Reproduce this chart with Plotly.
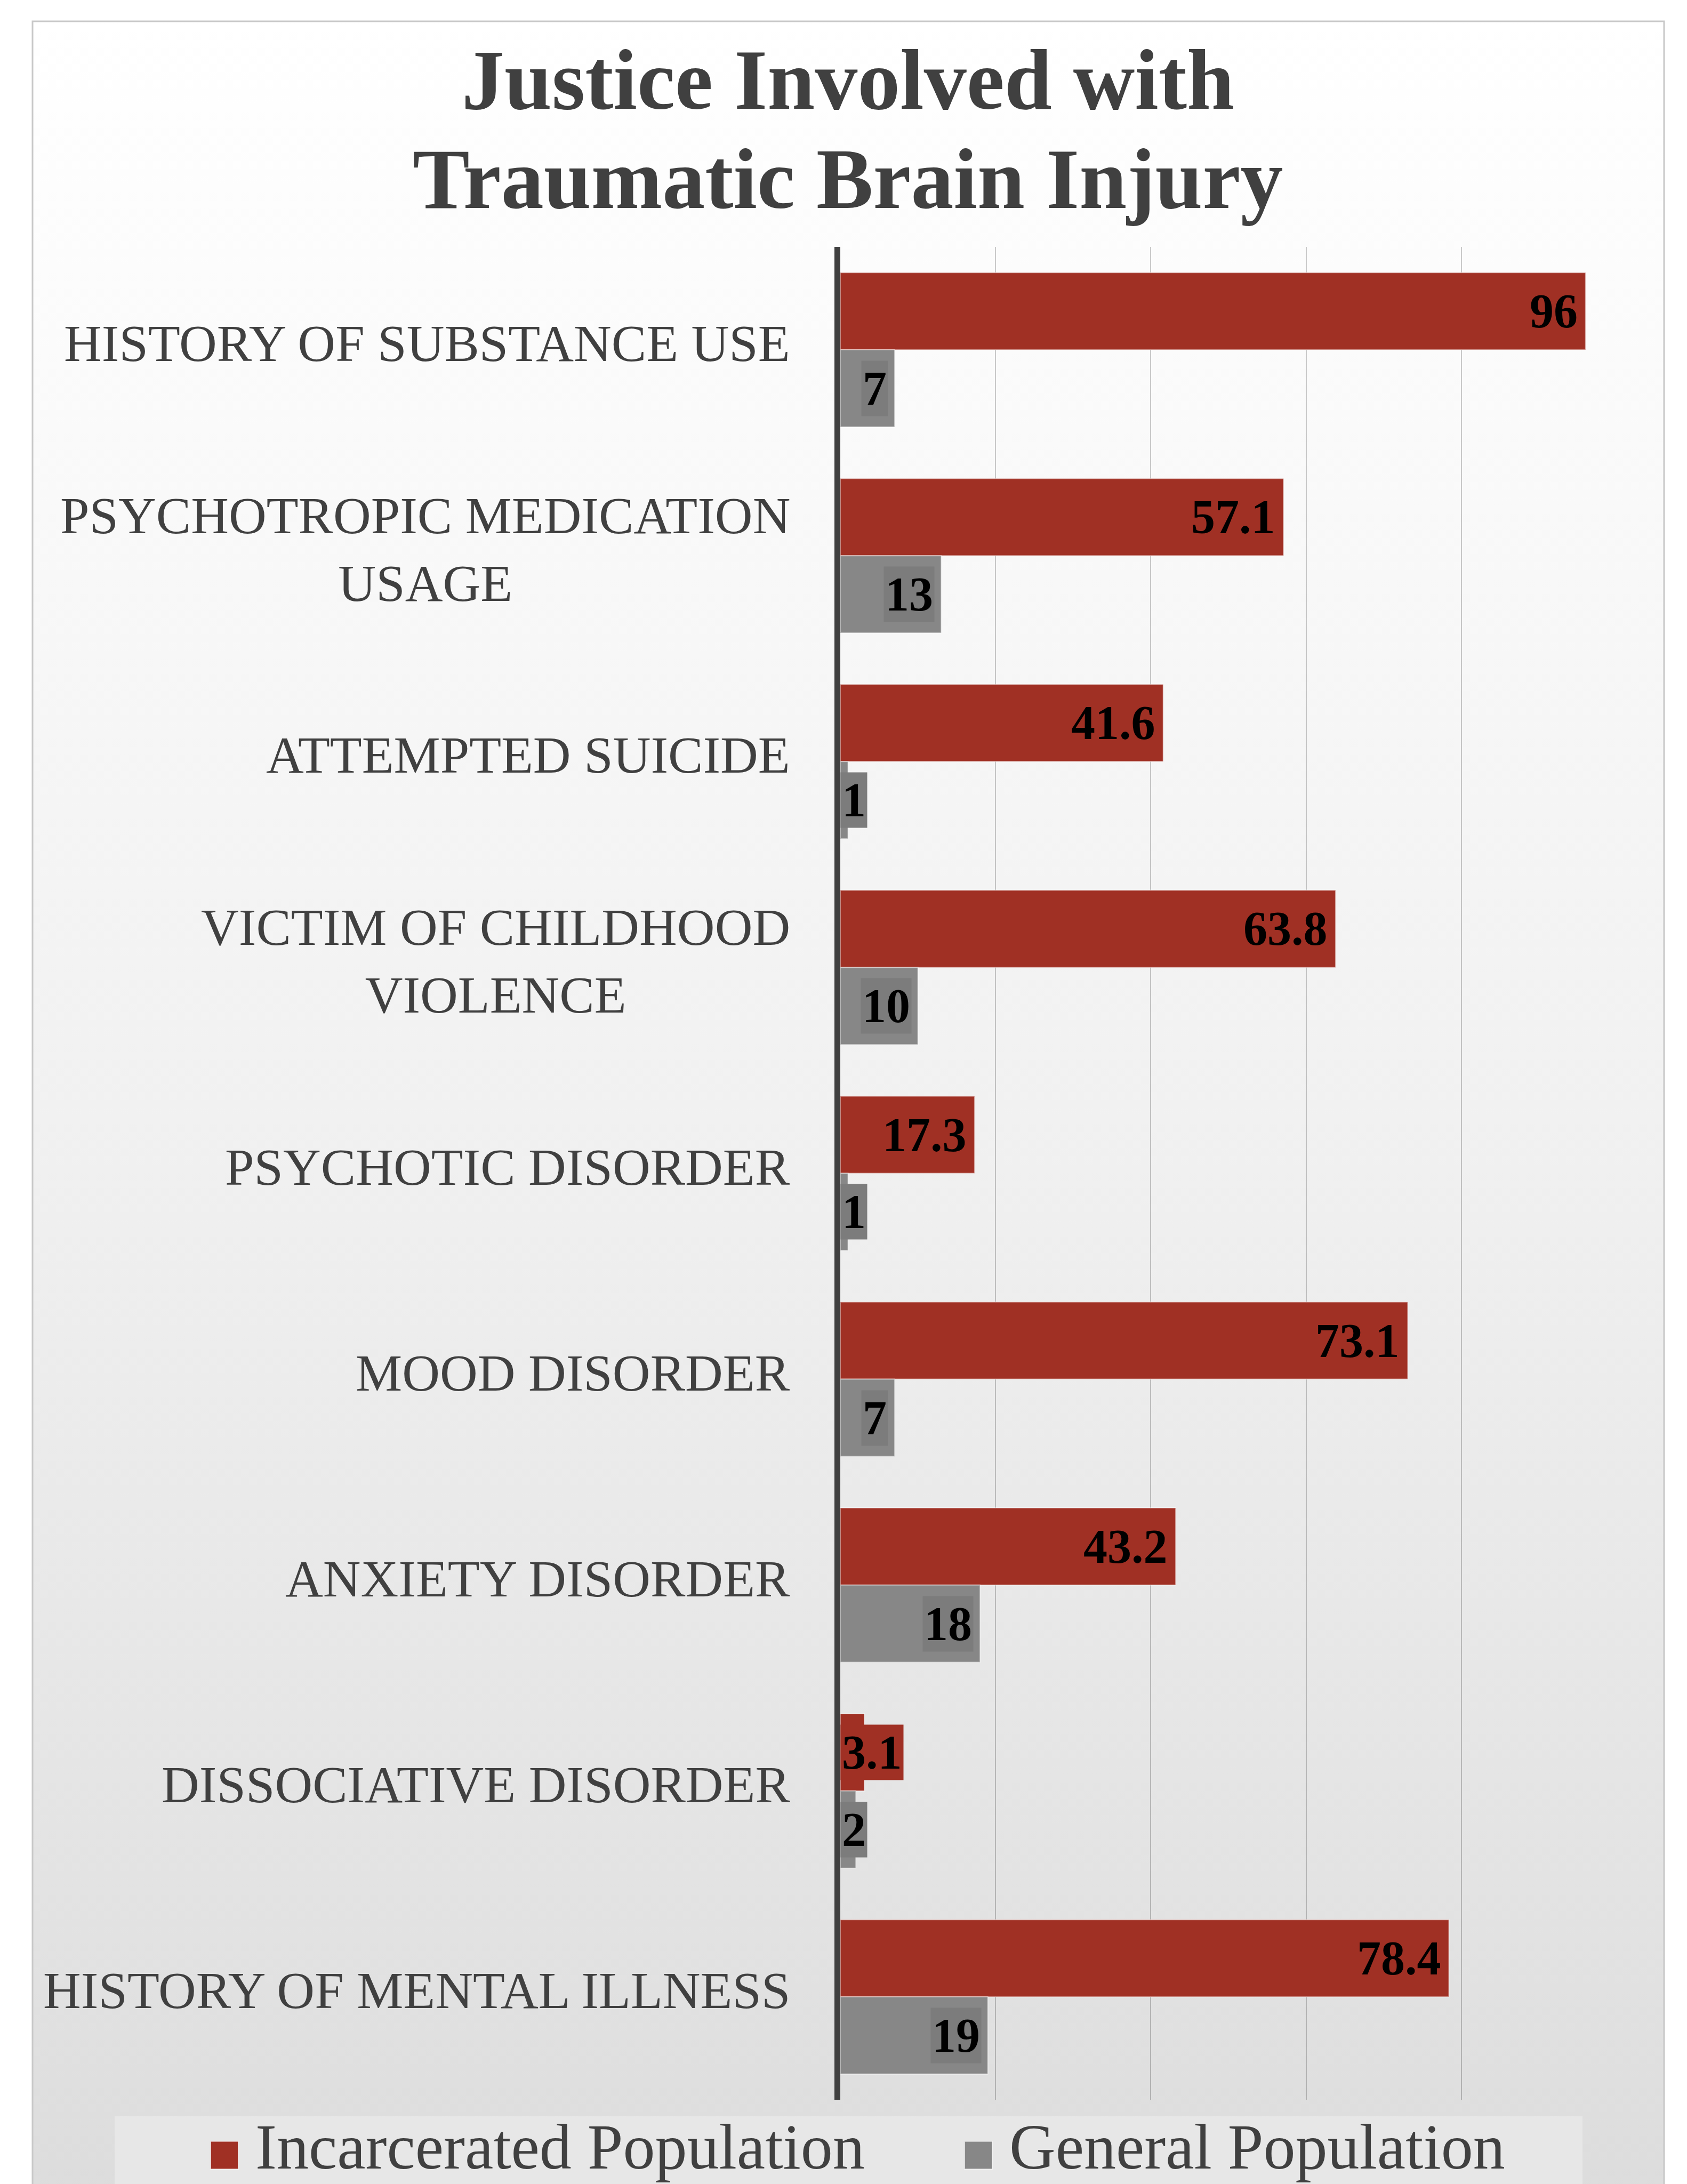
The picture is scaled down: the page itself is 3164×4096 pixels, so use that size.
import base64
import plotly.graph_objects as go

# ---------------- data ----------------
categories = [
    "HISTORY OF SUBSTANCE USE",
    "PSYCHOTROPIC MEDICATION<br>USAGE",
    "ATTEMPTED SUICIDE",
    "VICTIM OF CHILDHOOD<br>VIOLENCE",
    "PSYCHOTIC DISORDER",
    "MOOD DISORDER",
    "ANXIETY DISORDER",
    "DISSOCIATIVE DISORDER",
    "HISTORY OF MENTAL ILLNESS",
]
incarcerated = [96, 57.1, 41.6, 63.8, 17.3, 73.1, 43.2, 3.1, 78.4]
general = [7, 13, 1, 10, 1, 7, 18, 2, 19]
series_names = ["Incarcerated Population", "General Population"]
x_ticks = [0, 20, 40, 60, 80, 100]
title_lines = ["Justice Involved with", "Traumatic Brain Injury"]

# ---------------- style / layout constants ----------------
W, H = 3164, 4096
PX0, PX1 = 1568, 3024          # plot area left/right (px)
PY0, PY1 = 455, 3930           # plot area top/bottom (px)
BARGAP = 0.25
RED = "#A03024"
GRAY = "#878787"
BOX_COLORS = [RED, "#7c7c7c"]
TEXT = "#404040"
SERIF = "Liberation Serif"


def fx(p):
    return p / W


def fy(p):
    return 1 - p / H


fig = go.Figure()
for name, vals, col in zip(series_names, [incarcerated, general], [RED, GRAY]):
    fig.add_trace(go.Bar(
        y=categories, x=vals, name=name, orientation="h",
        marker=dict(color=col, line=dict(color="rgba(255,255,255,0.45)", width=2)),
        showlegend=False, hoverinfo="skip",
    ))

annotations = []
# value labels with boxes
cat_px = (PY1 - PY0) / len(categories)
bar_px = cat_px * (1 - BARGAP) / 2
for s, vals in enumerate([incarcerated, general]):
    sign = 1 if s == 0 else -1
    for cat, v in zip(categories, vals):
        inside = v >= 5
        annotations.append(dict(
            x=v if inside else 0, y=cat, xref="x", yref="y",
            text=f"{v:g}", showarrow=False,
            xanchor="right" if inside else "left", yanchor="middle",
            xshift=-12 if inside else 0, yshift=sign * bar_px / 2,
            bgcolor=BOX_COLORS[s], borderpad=2,
            font=dict(family=SERIF, size=90, color="black", weight="bold"),
        ))

# category labels
for cat in categories:
    annotations.append(dict(
        x=fx(PX0), y=cat, xref="paper", yref="y", text=cat, showarrow=False,
        xanchor="right", yanchor="middle", xshift=-92, yshift=12, align="center",
        font=dict(family=SERIF, size=98, color=TEXT),
    ))

# title
for line, yc in zip(title_lines, [142, 328]):
    annotations.append(dict(
        x=0.5, y=fy(yc), xref="paper", yref="paper", text=line, showarrow=False,
        xanchor="center", yanchor="middle",
        font=dict(family=SERIF, size=160, color=TEXT, weight="bold"),
    ))

# legend (manual)
shapes = []
LEG_MARK_X = [387, 1801]
LEG_SIZE = 52
LEG_BASE = 4060
for name, col, mx in zip(series_names, [RED, GRAY], LEG_MARK_X):
    shapes.append(dict(type="rect", xref="paper", yref="paper",
                       x0=fx(mx), x1=fx(mx + LEG_SIZE), y0=fy(LEG_BASE), y1=fy(LEG_BASE - LEG_SIZE),
                       fillcolor=col, line=dict(color="rgba(255,255,255,0.5)", width=2), layer="below"))
    annotations.append(dict(
        x=fx(mx + LEG_SIZE + 30), y=fy(LEG_BASE - 42), xref="paper", yref="paper",
        text=name, showarrow=False, xanchor="left", yanchor="middle",
        font=dict(family=SERIF, size=120, color=TEXT),
    ))

# legend background box
shapes.insert(0, dict(type="rect", xref="paper", yref="paper",
                      x0=fx(207), x1=fx(2960), y0=fy(4200), y1=fy(3961),
                      fillcolor="#e7e7e7", line=dict(width=0), layer="below"))
# outer frame
shapes.append(dict(type="rect", xref="paper", yref="paper",
                   x0=fx(53), x1=fx(3113), y0=fy(4200), y1=fy(32),
                   fillcolor="rgba(0,0,0,0)", line=dict(color="#c8c8c8", width=3), layer="below"))

# background gradient image
stops = [(0.0, "#ffffff"), (0.15, "#fbfbfb"), (0.5, "#f1f1f1"), (0.7, "#e9e9e9"),
         (0.9, "#e1e1e1"), (1.0, "#dcdcdc")]
stop_svg = "".join(f'<stop offset="{o}" stop-color="{c}"/>' for o, c in stops)
svg = ('<svg xmlns="http://www.w3.org/2000/svg" width="100" height="100" viewBox="0 0 100 100" '
       'preserveAspectRatio="none"><defs><linearGradient id="g" x1="0" y1="0" x2="0" y2="1">'
       + stop_svg + '</linearGradient></defs><rect width="100" height="100" fill="url(#g)"/></svg>')
src = "data:image/svg+xml;base64," + base64.b64encode(svg.encode()).decode()

fig.update_layout(
    width=W, height=H,
    margin=dict(l=0, r=0, t=0, b=0),
    paper_bgcolor="white", plot_bgcolor="rgba(0,0,0,0)",
    barmode="group", bargap=BARGAP, bargroupgap=0,
    showlegend=False,
    xaxis=dict(domain=[fx(PX0), fx(PX1)], range=[0, 100], tickvals=x_ticks,
               showticklabels=False, showgrid=True, gridcolor="rgba(0,0,0,0.2)",
               gridwidth=2, zeroline=False, showline=False, ticks=""),
    yaxis=dict(domain=[fy(PY1), fy(PY0)], categoryorder="array", categoryarray=categories,
               autorange="reversed", showticklabels=False, showgrid=False,
               showline=True, linecolor="#404040", linewidth=11, zeroline=False, ticks=""),
    annotations=annotations,
    shapes=shapes,
    images=[dict(source=src, xref="paper", yref="paper", x=fx(53), y=fy(32),
                 sizex=fx(3113) - fx(53), sizey=fy(32) + 0.01, sizing="stretch",
                 xanchor="left", yanchor="top", layer="below")],
)

fig.write_html("out.html")
